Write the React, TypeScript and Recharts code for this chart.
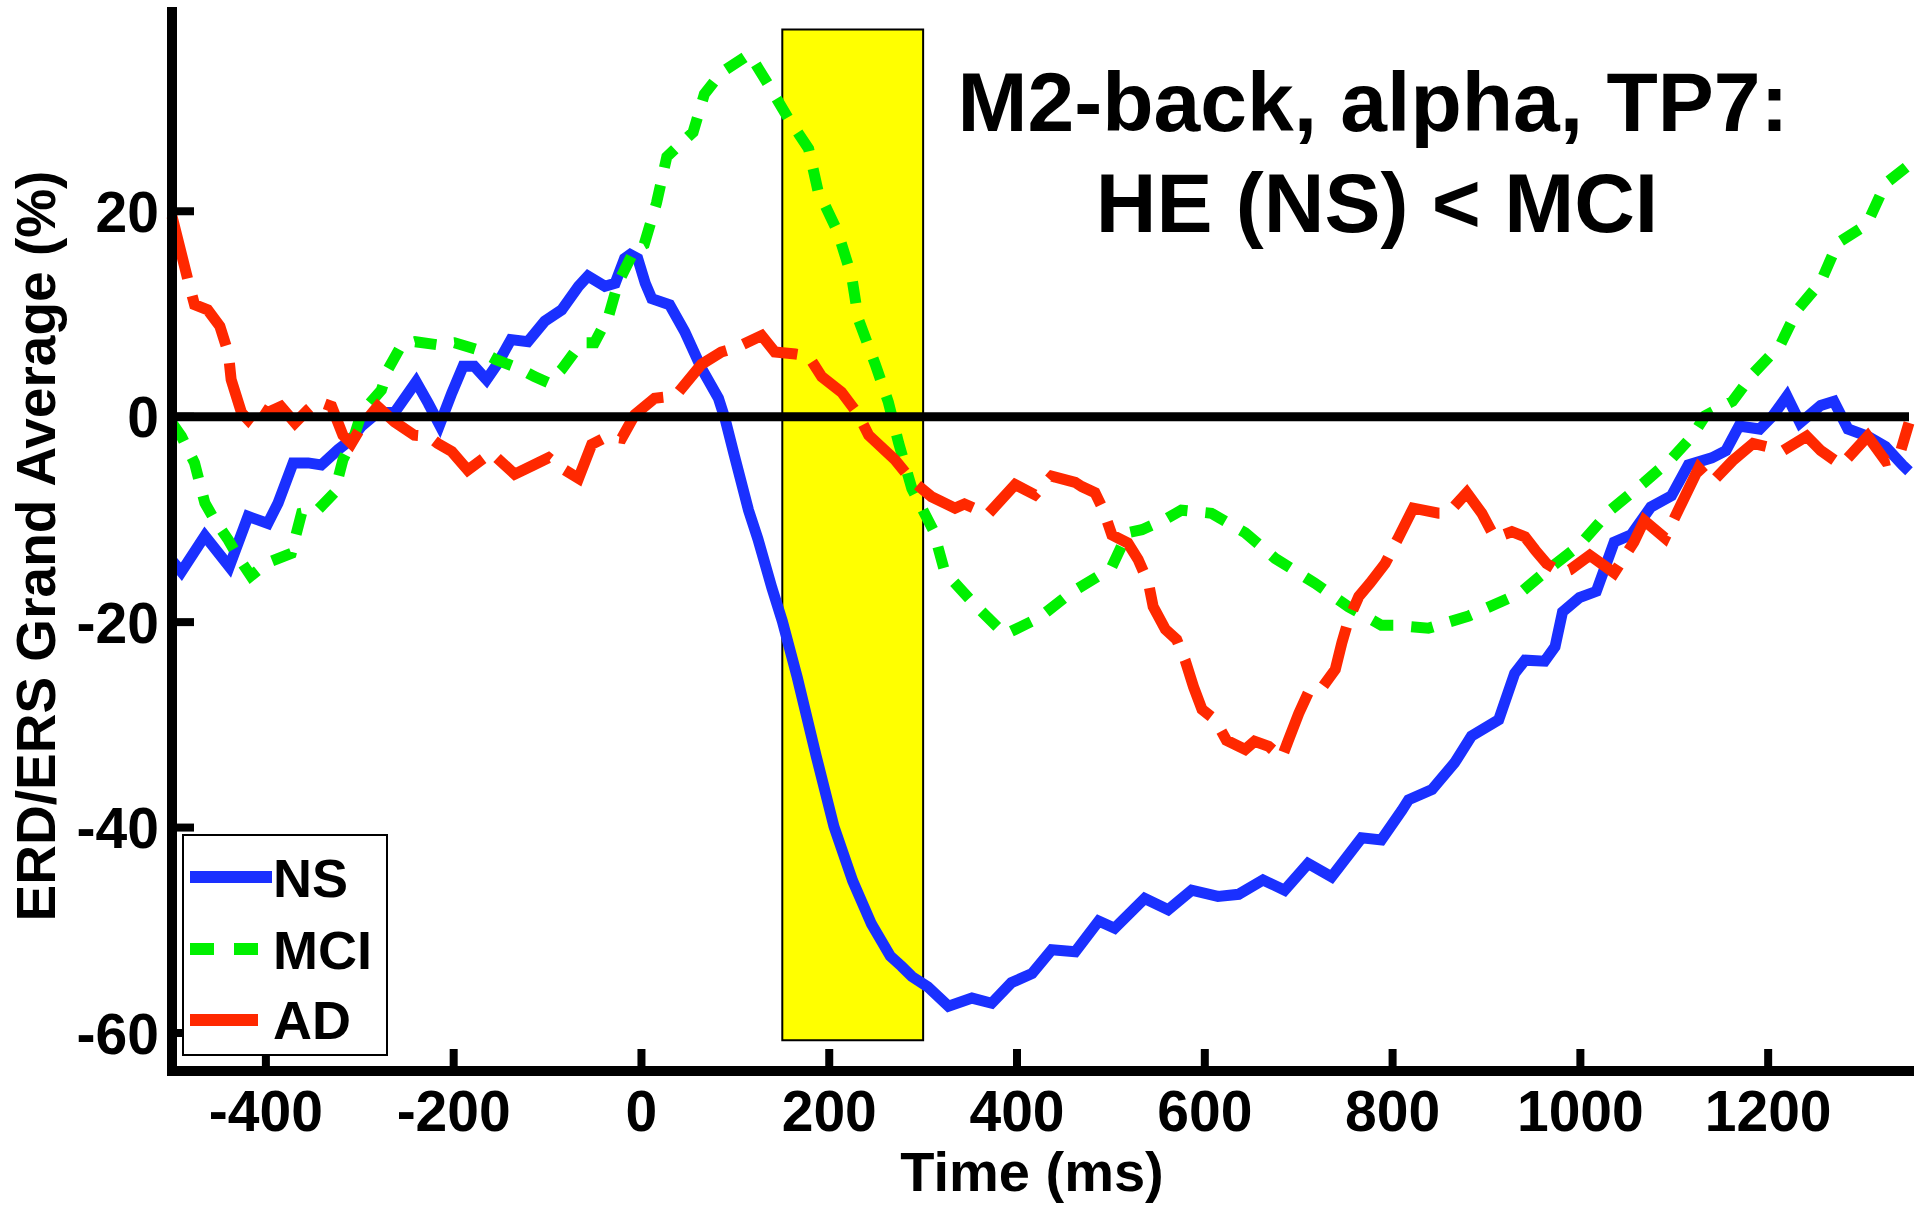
import React from "react"
import { LineChart, Line, XAxis, YAxis, ReferenceArea, ReferenceLine, Legend } from "recharts"

const FONT = "'Liberation Sans', Arial, Helvetica, sans-serif"
const BLUE = "#1a30ff"
const GREEN = "#00f000"
const RED = "#ff2800"
const YELLOW = "#ffff00"

// [time (ms), ERD/ERS (%)]
const nsSeries: [number, number][] = [
  [-500, -14.0], [-490, -15.1], [-465, -11.6], [-439, -14.6], [-419, -9.7], [-398, -10.4], [-387, -8.4],
  [-371, -4.5], [-355, -4.5], [-341, -4.7], [-323, -3.2], [-309, -2.2], [-298, -0.9], [-281, 0.4],
  [-263, 0.4], [-240, 3.4], [-227, 1.3], [-215, -0.8], [-202, 2.3], [-190, 4.9], [-178, 4.9],
  [-165, 3.6], [-153, 5.2], [-139, 7.5], [-121, 7.3], [-103, 9.3], [-85, 10.4], [-67, 12.7],
  [-57, 13.7], [-39, 12.7], [-28, 13.0], [-18, 15.4], [-12, 15.8], [-4, 15.4], [4, 13.0], [11, 11.5],
  [30, 10.9], [46, 8.3], [64, 4.7], [82, 1.8], [89, -0.2], [99, -3.8], [114, -9.1], [124, -11.9],
  [139, -16.7], [150, -19.9], [166, -25.4], [186, -33.0], [205, -39.9], [225, -45.2], [245, -49.4],
  [265, -52.5], [277, -53.5], [288, -54.5], [305, -55.5], [327, -57.4], [352, -56.6], [373, -57.1],
  [394, -55.1], [416, -54.2], [437, -51.9], [462, -52.1], [487, -49.1], [504, -49.8], [536, -46.9],
  [561, -48.0], [586, -46.1], [614, -46.7], [636, -46.5], [662, -45.1], [685, -46.1], [710, -43.5],
  [735, -44.8], [767, -41.0], [788, -41.2], [810, -38.3], [817, -37.3], [842, -36.3], [866, -33.7],
  [884, -31.1], [913, -29.5], [930, -25.0], [941, -23.7], [962, -23.8], [973, -22.4], [981, -19.0],
  [999, -17.6], [1017, -17.0], [1036, -12.2], [1054, -11.5], [1075, -8.8], [1097, -7.7], [1115, -4.7],
  [1140, -4.0], [1155, -3.3], [1169, -0.9], [1191, -1.2], [1205, 0.1], [1220, 2.0], [1234, -0.6],
  [1256, 1.1], [1270, 1.5], [1285, -1.2], [1306, -1.9], [1325, -2.9], [1343, -4.7], [1350, -5.3],
]

const mciSeries: [number, number][] = [
  [-500, -0.6], [-490, -1.9], [-476, -4.5], [-465, -8.4], [-455, -10.0], [-440, -12.0], [-430, -13.6],
  [-416, -15.5], [-398, -14.2], [-373, -13.3], [-362, -9.4], [-345, -9.1], [-327, -7.4], [-318, -4.2],
  [-307, -2.2], [-298, 0.4], [-277, 2.6], [-270, 4.6], [-256, 6.9], [-241, 7.3], [-217, 7.0],
  [-199, 7.2], [-174, 6.5], [-156, 5.6], [-128, 4.6], [-114, 3.9], [-99, 3.3], [-85, 4.6], [-64, 7.2],
  [-50, 7.2], [-35, 9.8], [-25, 13.0], [-7, 16.3], [3, 16.8], [16, 20.8], [27, 25.3], [55, 27.7],
  [67, 31.4], [85, 33.5], [115, 35.3], [134, 32.5], [156, 29.1], [178, 26.1], [188, 22.0], [209, 18.0],
  [224, 13.6], [231, 9.5], [249, 5.1], [263, 1.4], [274, -2.6], [288, -7.0], [311, -11.1], [323, -15.1],
  [355, -18.3], [387, -21.2], [423, -19.6], [458, -17.1], [487, -15.5], [501, -14.6], [518, -11.3],
  [533, -11.0], [558, -10.0], [575, -9.1], [607, -9.4], [643, -11.3], [675, -13.8], [717, -16.2],
  [753, -18.5], [788, -20.3], [803, -20.3], [838, -20.6], [881, -19.4], [923, -17.7], [938, -17.0],
  [960, -15.3], [999, -12.5], [1032, -9.1], [1068, -6.4], [1097, -4.1], [1119, -1.9], [1133, 0.1],
  [1162, 1.5], [1184, 4.2], [1213, 7.0], [1231, 10.4], [1256, 13.1], [1274, 16.9], [1305, 18.7],
  [1325, 22.7], [1350, 24.5],
]

const adSeries: [number, number][] = [
  [-500, 19.5], [-483, 13.3], [-476, 10.9], [-462, 10.4], [-449, 8.8], [-440, 6.2], [-437, 3.6],
  [-426, 0.4], [-419, -0.3], [-408, 1.0], [-398, 0.4], [-384, 1.0], [-369, -0.6], [-355, 0.7],
  [-345, 1.5], [-330, 1.0], [-318, -1.8], [-309, -2.6], [-298, -0.9], [-281, 1.0], [-263, -0.5],
  [-242, -1.8], [-227, -1.9], [-217, -2.6], [-202, -3.4], [-185, -5.2], [-160, -3.5], [-135, -5.6],
  [-117, -4.8], [-99, -4.0], [-85, -5.0], [-67, -6.0], [-53, -2.7], [-36, -1.9], [-21, -2.1],
  [-7, 0.2], [14, 1.8], [36, 2.0], [64, 5.1], [85, 6.3], [100, 6.7], [128, 7.9], [142, 6.3],
  [164, 6.1], [178, 5.9], [192, 3.9], [213, 2.4], [231, 0.2], [242, -1.8], [270, -4.2], [288, -6.2],
  [309, -7.8], [334, -8.9], [344, -8.5], [369, -9.5], [398, -6.6], [419, -7.6], [437, -5.8],
  [462, -6.4], [469, -6.8], [483, -7.4], [492, -9.1], [501, -11.5], [518, -12.3], [529, -13.9],
  [540, -16.2], [545, -18.5], [558, -20.7], [570, -21.7], [579, -23.7], [588, -26.3], [597, -28.5],
  [611, -29.5], [623, -31.5], [643, -32.4], [653, -31.6], [668, -32.1], [682, -33.2], [689, -31.5],
  [700, -28.9], [710, -26.9], [723, -26.6], [739, -24.6], [746, -22.0], [753, -19.8], [764, -17.5],
  [776, -16.2], [792, -14.3], [806, -11.8], [822, -8.9], [849, -9.4], [859, -9.4], [879, -7.4],
  [895, -9.4], [909, -11.8], [927, -11.2], [941, -11.7], [952, -13.0], [964, -14.3], [980, -15.2],
  [989, -14.9], [1010, -13.5], [1036, -15.2], [1057, -12.2], [1068, -10.1], [1090, -11.8],
  [1108, -8.4], [1126, -5.0], [1140, -6.4], [1162, -4.3], [1184, -2.6], [1216, -3.3], [1241, -1.9],
  [1256, -3.3], [1278, -4.7], [1306, -1.9], [1325, -4.3], [1339, -4.0], [1350, -0.6],
]

const xTicks = [-400, -200, 0, 200, 400, 600, 800, 1000, 1200]
const yTicks = [-60, -40, -20, 0, 20]
const xDomain = [-500, 1350]
const yDomain = [-63.7, 39.4]
const windowMs = [150, 300]
const windowPct = [-60.7, 37.7]

const toPoints = (s: [number, number][]) => s.map(([t, v]) => ({ t, v }))

const tickText = { fontFamily: FONT, fontWeight: 700, fontSize: 57, fill: "#000" }

function XTick(props: any) {
  const { x, y, payload } = props
  return (
    <g>
      <line x1={x} x2={x} y1={y} y2={y - 22} stroke="#000" strokeWidth={8} />
      <text x={x} y={y + 60} textAnchor="middle" {...tickText}>{payload.value}</text>
    </g>
  )
}

function YTick(props: any) {
  const { x, y, payload } = props
  return (
    <g>
      <line x1={x} x2={x + 22} y1={y} y2={y} stroke="#000" strokeWidth={8} />
      <text x={x - 13} y={y} dy="0.36em" textAnchor="end" {...tickText}>{payload.value}</text>
    </g>
  )
}

function LegendBox() {
  const label = { fontFamily: FONT, fontWeight: 700, fontSize: 54, fill: "#000" }
  return (
    <svg width={206} height={222} style={{ display: "block" }}>
      <rect x={1} y={1} width={204} height={220} fill="#fff" stroke="#000" strokeWidth={2} />
      <line x1={8} x2={90} y1={43} y2={43} stroke={BLUE} strokeWidth={12} />
      <text x={91} y={63} {...label}>NS</text>
      <line x1={8} x2={76} y1={115} y2={115} stroke={GREEN} strokeWidth={12} strokeDasharray="24 20" />
      <text x={91} y={135} {...label}>MCI</text>
      <line x1={8} x2={76} y1={186} y2={186} stroke={RED} strokeWidth={12} />
      <text x={91} y={205} {...label}>AD</text>
    </svg>
  )
}

export default function App() {
  const axisLine = { stroke: "#000", strokeWidth: 10, strokeLinecap: "square" as const }
  return (
    <div style={{ position: "absolute", left: 0, top: 0, width: 1915, height: 1205, background: "#fff" }}>
      <LineChart width={1915} height={1205} margin={{ top: 12, right: 6, bottom: 0, left: 0 }}>
        <XAxis
          dataKey="t"
          type="number"
          domain={xDomain}
          ticks={xTicks}
          height={134}
          axisLine={axisLine}
          tickLine={false}
          tickSize={0}
          tickMargin={0}
          tick={<XTick />}
        />
        <YAxis
          type="number"
          domain={yDomain}
          ticks={yTicks}
          width={172}
          axisLine={axisLine}
          tickLine={false}
          tickSize={0}
          tickMargin={0}
          tick={<YTick />}
        />
        <ReferenceArea
          x1={windowMs[0]}
          x2={windowMs[1]}
          y1={windowPct[0]}
          y2={windowPct[1]}
          fill={YELLOW}
          fillOpacity={1}
          stroke="#000"
          strokeWidth={2}
        />
        <Line data={toPoints(nsSeries)} dataKey="v" name="NS" stroke={BLUE} strokeWidth={11} dot={false} type="linear" isAnimationActive={false} />
        <Line data={toPoints(mciSeries)} dataKey="v" name="MCI" stroke={GREEN} strokeWidth={11} strokeDasharray="22 18" dot={false} type="linear" isAnimationActive={false} />
        <Line data={toPoints(adSeries)} dataKey="v" name="AD" stroke={RED} strokeWidth={11} strokeDasharray="64 18" dot={false} type="linear" isAnimationActive={false} />
        <ReferenceLine y={0} stroke="#000" strokeWidth={9} />
        <Legend
          layout="vertical"
          align="center"
          verticalAlign="middle"
          content={() => <LegendBox />}
          wrapperStyle={{ left: 182, top: 834, width: 206, height: 222, margin: 0, padding: 0, lineHeight: 0 }}
        />
      </LineChart>
      <svg width={1915} height={1205} style={{ position: "absolute", left: 0, top: 0, pointerEvents: "none" }}>
        <g fontFamily={FONT} fontWeight={700} fill="#000">
          <text x={1373} y={131} fontSize={84} textAnchor="middle">M2-back, alpha, TP7:</text>
          <text x={1377} y={232} fontSize={84} textAnchor="middle">HE (NS) &lt; MCI</text>
          <text x={1032} y={1191} fontSize={56} textAnchor="middle">Time (ms)</text>
          <text transform="translate(55,546) rotate(-90)" fontSize={55} textAnchor="middle">ERD/ERS Grand Average (%)</text>
        </g>
      </svg>
    </div>
  )
}
